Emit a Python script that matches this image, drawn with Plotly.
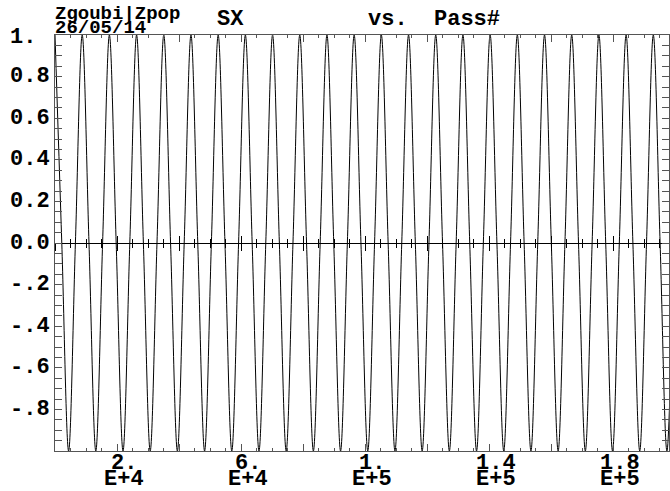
import plotly.graph_objects as go

# Spin component SX sampled at each quarter turn (pass number, value)
pass_no = [
    0, 2190, 4390, 6580, 8770, 10960, 13160, 15350, 17540, 19730,
    21930, 24120, 26310, 28500, 30700, 32890, 35080, 37270, 39470, 41660,
    43850, 46040, 48240, 50430, 52620, 54810, 57010, 59200, 61390, 63580,
    65780, 67970, 70160, 72350, 74550, 76740, 78930, 81120, 83320, 85510,
    87700, 89890, 92090, 94280, 96470, 98660, 100860, 103050, 105240, 107430,
    109630, 111820, 114010, 116200, 118400, 120590, 122780, 124970, 127170, 129360,
    131550, 133740, 135940, 138130, 140320, 142510, 144710, 146900, 149090, 151280,
    153480, 155670, 157860, 160050, 162250, 164440, 166630, 168820, 171020, 173210,
    175400, 177590, 179790, 181980, 184170, 186360, 188560, 190750, 192940, 195130,
    197330, 199520,
]
sx = [
    1, 0, -1, 0, 1, 0, -1, 0, 1, 0,
    -1, 0, 1, 0, -1, 0, 1, 0, -1, 0,
    1, 0, -1, 0, 1, 0, -1, 0, 1, 0,
    -1, 0, 1, 0, -1, 0, 1, 0, -1, 0,
    1, 0, -1, 0, 1, 0, -1, 0, 1, 0,
    -1, 0, 1, 0, -1, 0, 1, 0, -1, 0,
    1, 0, -1, 0, 1, 0, -1, 0, 1, 0,
    -1, 0, 1, 0, -1, 0, 1, 0, -1, 0,
    1, 0, -1, 0, 1, 0, -1, 0, 1, 0,
    -1, 0,
]

# Axis labels
x_tick_vals = [20000, 60000, 100000, 140000, 180000]
x_tick_mant = ["2.", "6.", "1.", "1.4", "1.8"]
x_tick_exp = ["E+4", "E+4", "E+5", "E+5", "E+5"]
y_tick_vals = [1.0, 0.8, 0.6, 0.4, 0.2, 0.0, -0.2, -0.4, -0.6, -0.8]
y_tick_text = ["1.", "0.8", "0.6", "0.4", "0.2", "0.0", "-.2", "-.4", "-.6", "-.8"]

X_RANGE = [0, 198000]
FONT = "Liberation Mono"
FRAME = "#555555"

fig = go.Figure()
fig.add_trace(go.Scatter(
    x=pass_no, y=sx, mode="lines",
    line=dict(color="black", width=1, shape="spline", smoothing=1.0),
    showlegend=False, hoverinfo="skip",
))
# placeholders so the tick rows on the y=0 line are laid out
for ax in ("x2", "x3"):
    fig.add_trace(go.Scatter(x=[None], y=[None], xaxis=ax, yaxis="y",
                             showlegend=False, hoverinfo="skip"))

common_x = dict(range=X_RANGE, showgrid=False, zeroline=False,
                showticklabels=False, tick0=0, dtick=20000)

fig.update_layout(
    width=670, height=491,
    margin=dict(l=55, r=1, t=35, b=40),
    paper_bgcolor="white", plot_bgcolor="white",
    xaxis=dict(**common_x, showline=True, linecolor=FRAME, linewidth=1,
               mirror="allticks", ticks="inside", ticklen=7, tickcolor=FRAME,
               minor=dict(dtick=5000, tick0=0, ticks="inside", ticklen=3,
                          tickcolor=FRAME, showgrid=False)),
    xaxis2=dict(**common_x, overlaying="x", anchor="free", position=0.5,
                showline=False, ticks="outside", ticklen=7, tickcolor="black",
                minor=dict(dtick=5000, tick0=0, ticks="outside", ticklen=4,
                           tickcolor="black", showgrid=False)),
    xaxis3=dict(**common_x, overlaying="x", anchor="free", position=0.5,
                showline=False, ticks="inside", ticklen=7, tickcolor="black",
                minor=dict(dtick=5000, tick0=0, ticks="inside", ticklen=4,
                           tickcolor="black", showgrid=False)),
    yaxis=dict(range=[-1, 1], showgrid=False, showline=True, linecolor=FRAME,
               linewidth=1, mirror="allticks", ticks="inside", ticklen=7,
               tickcolor=FRAME, tick0=0, dtick=0.2, showticklabels=False,
               zeroline=True, zerolinecolor="black", zerolinewidth=1,
               minor=dict(dtick=0.05, tick0=0, ticks="inside", ticklen=3,
                          tickcolor=FRAME, showgrid=False)),
)

annotations = []
big = dict(family=FONT, size=22, color="black")
small = dict(family=FONT, size=19, color="black")

for v, t in zip(y_tick_vals, y_tick_text):
    annotations.append(dict(x=0, xref="paper", y=v, yref="y", text=f"<b>{t}</b>",
                            showarrow=False, xanchor="left", yanchor="middle",
                            xshift=-47, yshift=-2 if v == 1.0 else 0, font=big))
for v, m, e in zip(x_tick_vals, x_tick_mant, x_tick_exp):
    annotations.append(dict(x=v, xref="x", y=0, yref="paper", text=f"<b>{m}</b>",
                            showarrow=False, xanchor="center", yanchor="middle",
                            xshift=7, yshift=-12, font=big))
    annotations.append(dict(x=v, xref="x", y=0, yref="paper", text=f"<b>{e}</b>",
                            showarrow=False, xanchor="center", yanchor="middle",
                            xshift=7, yshift=-28, font=big))

# header
annotations.append(dict(x=0, xref="paper", y=1, yref="paper", text="<b>Zgoubi|Zpop</b>",
                        showarrow=False, xanchor="left", yanchor="middle",
                        xshift=-2, yshift=21, font=small))
annotations.append(dict(x=0, xref="paper", y=1, yref="paper", text="<b>26/05/14</b>",
                        showarrow=False, xanchor="left", yanchor="middle",
                        xshift=-2, yshift=7, font=small))
for txt, px in (("SX", 230), ("vs.", 388), ("Pass#", 467)):
    annotations.append(dict(x=(px - 55) / 614, xref="paper", y=1, yref="paper",
                            text=f"<b>{txt}</b>", showarrow=False, xanchor="center",
                            yanchor="middle", yshift=16, font=big))

fig.update_layout(annotations=annotations)
fig.write_html("out.html")
